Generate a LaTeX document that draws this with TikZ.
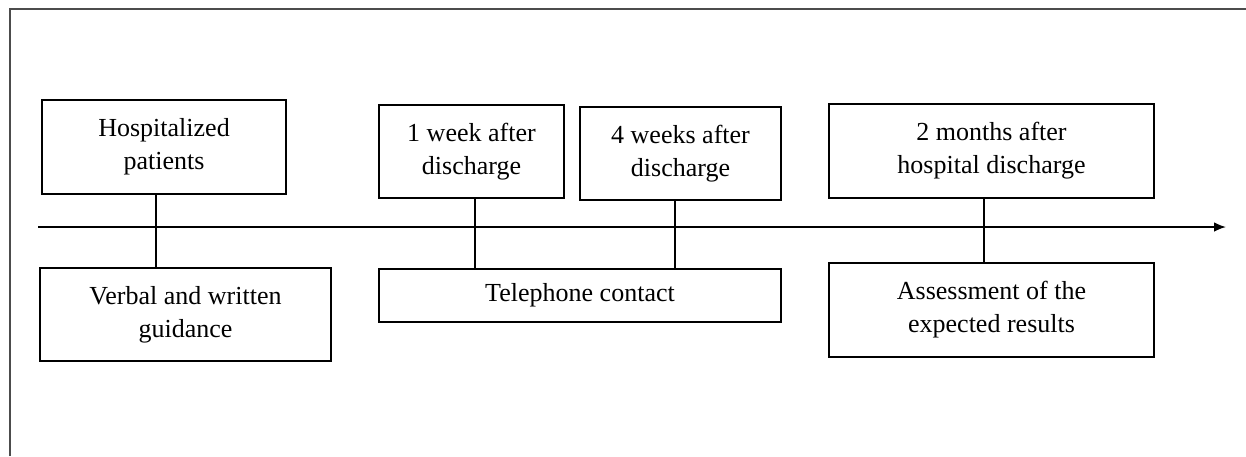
\documentclass[tikz,border=0pt]{standalone}
\usepackage{fontspec}
\setmainfont{Liberation Serif}
\usetikzlibrary{arrows.meta}

\begin{document}
\begin{tikzpicture}[x=0.025cm, y=-0.025cm,
  box/.style={draw, line width=1.1pt, rectangle, inner sep=0pt, align=center,
    font=\fontsize{18.5}{23.5}\selectfont},
  link/.style={line width=1pt}]
\useasboundingbox (0, 0) rectangle (1246, 456);

% frame
\draw [black!70, line width=1.5pt] (10, 456) -- (10, 9) -- (1246, 9);

% time axis
\coordinate (start) at (38, 227);
\coordinate (end) at (1226, 227);
\draw [line width=1.2pt, -{Latex[length=0.3cm, width=0.24cm]}] (start) -- (end);

% ticks on the axis
\coordinate (t1) at (156, 227);
\coordinate (t2) at (475, 227);
\coordinate (t3) at (675, 227);
\coordinate (t4) at (984, 227);

% upper row
\node [box, minimum width=6.1cm, minimum height=2.35cm] (hosp) at (164, 147) {Hospitalized\\patients};
\node [box, minimum width=4.625cm, minimum height=2.325cm] (week1) at (471.5, 151.5) {1 week after\\discharge};
\node [box, minimum width=5.025cm, minimum height=2.325cm] (week4) at (680.5, 153.5) {4 weeks after\\discharge};
\node [box, minimum width=8.125cm, minimum height=2.35cm] (month2) at (991.5, 151) {2 months after\\hospital discharge};

% lower row
\node [box, minimum width=7.275cm, minimum height=2.325cm] (guide) at (185.5, 314.5) {Verbal and written\\guidance};
\node [box, minimum width=10.05cm, minimum height=1.325cm] (phone) at (580, 295.5) {Telephone contact};
\node [box, minimum width=8.125cm, minimum height=2.35cm] (assess) at (991.5, 310) {Assessment of the\\expected results};

% links through the axis
\draw [link] (t1 |- hosp.south) -- (t1 |- guide.north);
\draw [link] (t2 |- week1.south) -- (t2 |- phone.north);
\draw [link] (t3 |- week4.south) -- (t3 |- phone.north);
\draw [link] (t4 |- month2.south) -- (t4 |- assess.north);
\end{tikzpicture}
\end{document}
